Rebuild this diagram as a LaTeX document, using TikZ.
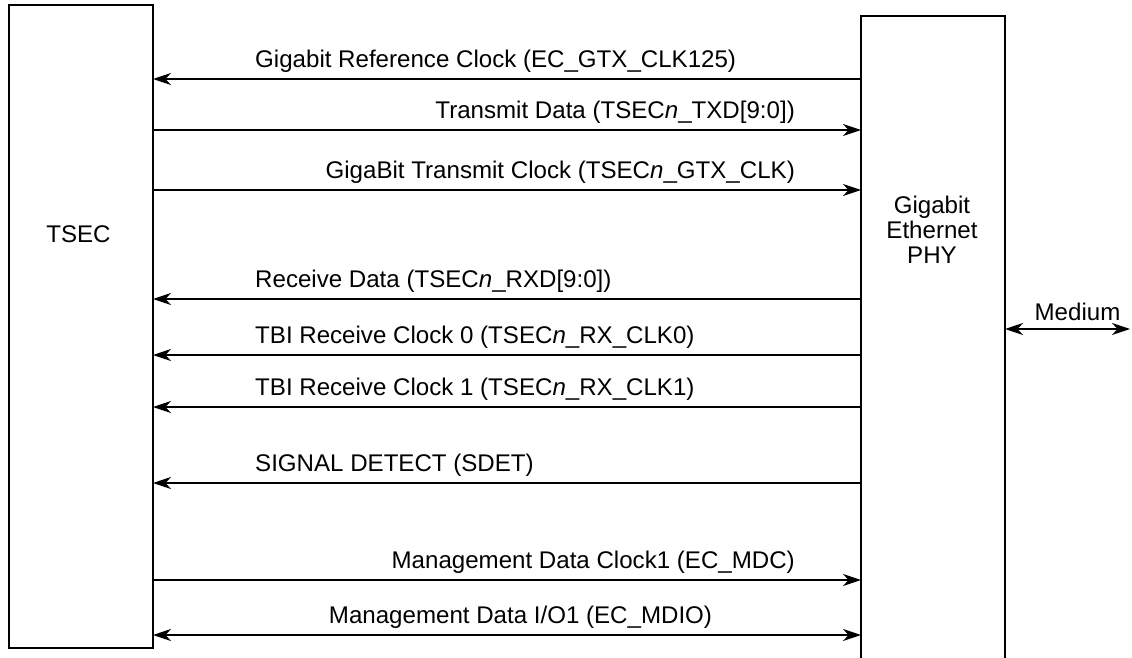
\documentclass[tikz,border=0pt]{standalone}
\usepackage{fontspec}
\setmainfont{Liberation Sans}
\usepackage{tikz}
\usetikzlibrary{arrows.meta,positioning}

\begin{document}
\begin{tikzpicture}[x=1pt, y=-1pt, font=\fontsize{24.1}{25}\selectfont,
  >={Stealth[length=18pt,width=12pt,inset=5.5pt]},
  blockbox/.style={line width=2pt},
  sigline/.style={line width=1.7pt},
  siglbl/.style={inner sep=0pt},
  blockshape/.style={minimum width=144pt, inner sep=0pt, outer sep=0pt, anchor=north west}]
\useasboundingbox (0,0) rectangle (1132,658);
% ---- blocks ----
\node[draw, blockbox, blockshape, minimum height=643pt] (tsec) at (9,5) {};
\node (tseclbl) at (78.5,234.7) {TSEC};
\node[blockshape, minimum height=660pt] (phy) at (861,15.7) {};
\draw[blockbox] (phy.south west) -- (phy.north west) -- (phy.north east) -- (phy.south east);
\node[align=center] (phylbl) at (932,230) {Gigabit\\Ethernet\\PHY};
% ---- PHY -> TSEC ----
\foreach \y/\txt in {79/{Gigabit Reference Clock (EC\_GTX\_CLK125)},
                     299/{Receive Data (TSEC\textit{n}\_RXD[9:0])},
                     355/{TBI Receive Clock 0 (TSEC\textit{n}\_RX\_CLK0)},
                     407/{TBI Receive Clock 1 (TSEC\textit{n}\_RX\_CLK1)},
                     483/{SIGNAL DETECT (SDET)}}{
  \draw[sigline,<-] (tsec.east |- 0,\y) -- (phy.west |- 0,\y);
  \node[siglbl, anchor=base west] (sigin\y) at (255,\y-11.7) {\txt};
}
% ---- TSEC -> PHY ----
\foreach \y/\txt in {130/{Transmit Data (TSEC\textit{n}\_TXD[9:0])},
                     190/{GigaBit Transmit Clock (TSEC\textit{n}\_GTX\_CLK)},
                     580/{Management Data Clock1 (EC\_MDC)}}{
  \draw[sigline,->] (tsec.east |- 0,\y) -- (phy.west |- 0,\y);
  \node[siglbl, anchor=base east] (sigout\y) at (795,\y-11.7) {\txt};
}
% ---- both ways ----
\draw[sigline,<->] (tsec.east |- 0,635) -- (phy.west |- 0,635);
\node[siglbl, anchor=base] (mdio) at (520.5,623.3) {Management Data I/O1 (EC\_MDIO)};
% ---- medium ----
\coordinate (med) at (1130,329);
\draw[sigline,<->] (phy.east |- med) -- (med);
\node[siglbl, anchor=base] (medlbl) at (1077.5,320.7) {Medium};
\end{tikzpicture}
\end{document}
